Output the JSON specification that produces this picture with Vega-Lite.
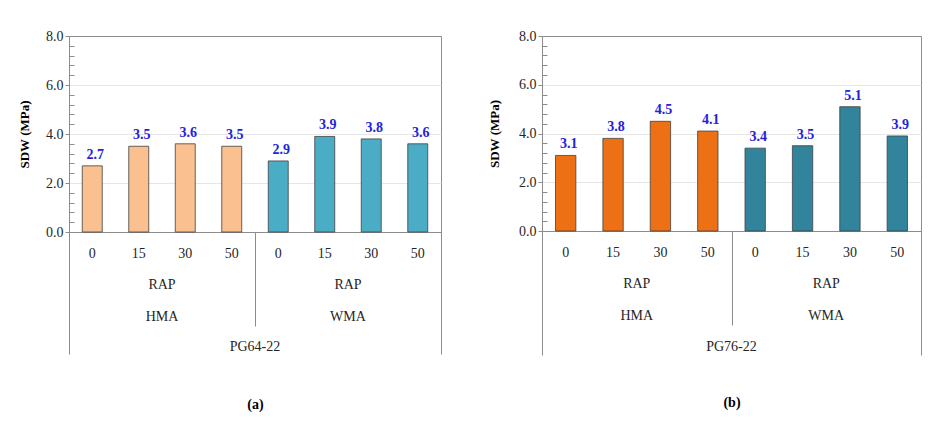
{
  "$schema": "https://vega.github.io/schema/vega-lite/v6.json",
  "padding": {"left": 18, "top": 28, "right": 5, "bottom": 0},
  "spacing": 46,
  "resolve": {"scale": {"color": "independent"}},
  "config": {
    "view": {"stroke": "#8c8c8c"},
    "font": "'Liberation Serif', 'Times New Roman', serif",
    "text": {"font": "'Liberation Serif', 'Times New Roman', serif"},
    "axis": {"labelFont": "'Liberation Serif', 'Times New Roman', serif", "titleFont": "'Liberation Serif', 'Times New Roman', serif", "domainColor": "#8c8c8c", "tickColor": "#8c8c8c", "labelColor": "#262626", "titleColor": "#000000"}
  },
  "datasets": {
    "sdw": [
      {"panel": "a", "binder": "PG64-22", "mix": "HMA", "bar": "HMA-0", "value": 2.7},
      {"panel": "a", "binder": "PG64-22", "mix": "HMA", "bar": "HMA-15", "value": 3.5},
      {"panel": "a", "binder": "PG64-22", "mix": "HMA", "bar": "HMA-30", "value": 3.6},
      {"panel": "a", "binder": "PG64-22", "mix": "HMA", "bar": "HMA-50", "value": 3.5},
      {"panel": "a", "binder": "PG64-22", "mix": "WMA", "bar": "WMA-0", "value": 2.9},
      {"panel": "a", "binder": "PG64-22", "mix": "WMA", "bar": "WMA-15", "value": 3.9},
      {"panel": "a", "binder": "PG64-22", "mix": "WMA", "bar": "WMA-30", "value": 3.8},
      {"panel": "a", "binder": "PG64-22", "mix": "WMA", "bar": "WMA-50", "value": 3.6},
      {"panel": "b", "binder": "PG76-22", "mix": "HMA", "bar": "HMA-0", "value": 3.1},
      {"panel": "b", "binder": "PG76-22", "mix": "HMA", "bar": "HMA-15", "value": 3.8},
      {"panel": "b", "binder": "PG76-22", "mix": "HMA", "bar": "HMA-30", "value": 4.5},
      {"panel": "b", "binder": "PG76-22", "mix": "HMA", "bar": "HMA-50", "value": 4.1},
      {"panel": "b", "binder": "PG76-22", "mix": "WMA", "bar": "WMA-0", "value": 3.4},
      {"panel": "b", "binder": "PG76-22", "mix": "WMA", "bar": "WMA-15", "value": 3.5},
      {"panel": "b", "binder": "PG76-22", "mix": "WMA", "bar": "WMA-30", "value": 5.1},
      {"panel": "b", "binder": "PG76-22", "mix": "WMA", "bar": "WMA-50", "value": 3.9}
    ]
  },
  "hconcat": [
    {
      "width": 372,
      "height": 196,
      "data": {"name": "sdw"},
      "transform": [{"filter": "datum.panel === 'a'"}],
      "resolve": {"scale": {"x": "independent"}, "axis": {"y": "independent"}},
      "layer": [
        {
          "mark": {"type": "bar", "stroke": "#404040", "strokeWidth": 0.8},
          "encoding": {
            "x": {"field": "bar", "type": "nominal", "sort": null, "scale": {"paddingInner": 0.57, "paddingOuter": 0.285},
              "axis": {"orient": "bottom", "title": null, "ticks": false, "labelAngle": 0, "labelPadding": 14, "labelFontSize": 14, "labelExpr": "split(datum.label, '-')[1]", "grid": false}},
            "y": {"field": "value", "type": "quantitative", "scale": {"domain": [0, 8]},
              "axis": {"orient": "left", "values": [0, 2, 4, 6, 8], "format": ".1f", "title": "SDW (MPa)", "titleFontSize": 13, "titleFontWeight": "bold", "titlePadding": 14, "labelFontSize": 14, "tickSize": 4, "grid": true,
                "gridColor": {"condition": {"test": "datum.value === 8 || datum.value === 0", "value": "#8c8c8c"}, "value": "#e6e6e6"}}},
            "color": {"field": "mix", "type": "nominal", "scale": {"domain": ["HMA", "WMA"], "range": ["#FAC090", "#4BACC6"]}, "legend": null}
          }
        },
        {
          "mark": {"type": "text", "baseline": "bottom", "dy": -4, "dx": 3, "fontWeight": "bold", "fontSize": 14, "color": "#2222DD"},
          "encoding": {
            "x": {"field": "bar", "type": "nominal", "sort": null, "scale": {"paddingInner": 0.57, "paddingOuter": 0.285}, "axis": null},
            "y": {"field": "value", "type": "quantitative", "axis": null},
            "text": {"field": "value", "type": "quantitative", "format": ".1f"}
          }
        },
        {
          "mark": {"type": "point", "opacity": 0},
          "encoding": {
            "x": {"field": "bar", "type": "nominal", "axis": null},
            "y": {"field": "value", "type": "quantitative",
              "axis": {"orient": "left", "values": [0.4, 0.8, 1.2, 1.6, 2.4, 2.8, 3.2, 3.6, 4.4, 4.8, 5.2, 5.6, 6.4, 6.8, 7.2, 7.6], "labels": false, "domain": false, "grid": false, "tickSize": -5, "title": null}}
          }
        },
        {
          "mark": {"type": "point", "opacity": 0},
          "encoding": {
            "x": {"field": "mix", "type": "nominal", "scale": {"type": "band", "paddingInner": 0, "paddingOuter": 0},
              "axis": {"orient": "bottom", "title": null, "ticks": false, "domain": false, "labelAngle": 0, "labelPadding": 45, "labelFontSize": 14, "labelLineHeight": 32, "labelExpr": "['RAP', datum.label]"}},
            "y": {"field": "value", "type": "quantitative", "axis": null}
          }
        },
        {
          "mark": {"type": "point", "opacity": 0},
          "encoding": {
            "x": {"field": "mix", "type": "nominal", "scale": {"type": "band", "paddingInner": 0, "paddingOuter": 0},
              "axis": {"orient": "bottom", "title": null, "labels": false, "domain": false, "ticks": true, "tickBand": "extent", "tickSize": 94, "grid": false}},
            "y": {"field": "value", "type": "quantitative", "axis": null}
          }
        },
        {
          "mark": {"type": "point", "opacity": 0},
          "encoding": {
            "x": {"field": "binder", "type": "nominal", "scale": {"type": "band", "paddingInner": 0, "paddingOuter": 0},
              "axis": {"orient": "bottom", "title": null, "labels": false, "domain": false, "ticks": true, "tickBand": "extent", "tickSize": 122, "grid": false}},
            "y": {"field": "value", "type": "quantitative", "axis": null}
          }
        },
        {
          "mark": {"type": "point", "opacity": 0},
          "encoding": {
            "x": {"field": "binder", "type": "nominal", "scale": {"type": "band", "paddingInner": 0, "paddingOuter": 0},
              "axis": {"orient": "bottom", "title": "(a)", "titleFontSize": 14, "titleFontWeight": "bold", "titlePadding": 44, "ticks": false, "domain": false, "labelAngle": 0, "labelPadding": 107, "labelFontSize": 14}},
            "y": {"field": "value", "type": "quantitative", "axis": null}
          }
        }
      ]
    },
    {
      "width": 379,
      "height": 195,
      "data": {"name": "sdw"},
      "transform": [{"filter": "datum.panel === 'b'"}],
      "resolve": {"scale": {"x": "independent"}, "axis": {"y": "independent"}},
      "layer": [
        {
          "mark": {"type": "bar", "stroke": "#404040", "strokeWidth": 0.8},
          "encoding": {
            "x": {"field": "bar", "type": "nominal", "sort": null, "scale": {"paddingInner": 0.57, "paddingOuter": 0.285},
              "axis": {"orient": "bottom", "title": null, "ticks": false, "labelAngle": 0, "labelPadding": 14, "labelFontSize": 14, "labelExpr": "split(datum.label, '-')[1]", "grid": false}},
            "y": {"field": "value", "type": "quantitative", "scale": {"domain": [0, 8]},
              "axis": {"orient": "left", "values": [0, 2, 4, 6, 8], "format": ".1f", "title": "SDW (MPa)", "titleFontSize": 13, "titleFontWeight": "bold", "titlePadding": 17, "labelFontSize": 14, "tickSize": 4, "grid": true,
                "gridColor": {"condition": {"test": "datum.value === 8 || datum.value === 0", "value": "#8c8c8c"}, "value": "#e6e6e6"}}},
            "color": {"field": "mix", "type": "nominal", "scale": {"domain": ["HMA", "WMA"], "range": ["#EE7014", "#31849B"]}, "legend": null}
          }
        },
        {
          "mark": {"type": "text", "baseline": "bottom", "dy": -4, "dx": 3, "fontWeight": "bold", "fontSize": 14, "color": "#2222DD"},
          "encoding": {
            "x": {"field": "bar", "type": "nominal", "sort": null, "scale": {"paddingInner": 0.57, "paddingOuter": 0.285}, "axis": null},
            "y": {"field": "value", "type": "quantitative", "axis": null},
            "text": {"field": "value", "type": "quantitative", "format": ".1f"}
          }
        },
        {
          "mark": {"type": "point", "opacity": 0},
          "encoding": {
            "x": {"field": "bar", "type": "nominal", "axis": null},
            "y": {"field": "value", "type": "quantitative",
              "axis": {"orient": "left", "values": [0.4, 0.8, 1.2, 1.6, 2.4, 2.8, 3.2, 3.6, 4.4, 4.8, 5.2, 5.6, 6.4, 6.8, 7.2, 7.6], "labels": false, "domain": false, "grid": false, "tickSize": -5, "title": null}}
          }
        },
        {
          "mark": {"type": "point", "opacity": 0},
          "encoding": {
            "x": {"field": "mix", "type": "nominal", "scale": {"type": "band", "paddingInner": 0, "paddingOuter": 0},
              "axis": {"orient": "bottom", "title": null, "ticks": false, "domain": false, "labelAngle": 0, "labelPadding": 45, "labelFontSize": 14, "labelLineHeight": 32, "labelExpr": "['RAP', datum.label]"}},
            "y": {"field": "value", "type": "quantitative", "axis": null}
          }
        },
        {
          "mark": {"type": "point", "opacity": 0},
          "encoding": {
            "x": {"field": "mix", "type": "nominal", "scale": {"type": "band", "paddingInner": 0, "paddingOuter": 0},
              "axis": {"orient": "bottom", "title": null, "labels": false, "domain": false, "ticks": true, "tickBand": "extent", "tickSize": 94, "grid": false}},
            "y": {"field": "value", "type": "quantitative", "axis": null}
          }
        },
        {
          "mark": {"type": "point", "opacity": 0},
          "encoding": {
            "x": {"field": "binder", "type": "nominal", "scale": {"type": "band", "paddingInner": 0, "paddingOuter": 0},
              "axis": {"orient": "bottom", "title": null, "labels": false, "domain": false, "ticks": true, "tickBand": "extent", "tickSize": 124, "grid": false}},
            "y": {"field": "value", "type": "quantitative", "axis": null}
          }
        },
        {
          "mark": {"type": "point", "opacity": 0},
          "encoding": {
            "x": {"field": "binder", "type": "nominal", "scale": {"type": "band", "paddingInner": 0, "paddingOuter": 0},
              "axis": {"orient": "bottom", "title": "(b)", "titleFontSize": 14, "titleFontWeight": "bold", "titlePadding": 42, "ticks": false, "domain": false, "labelAngle": 0, "labelPadding": 108, "labelFontSize": 14}},
            "y": {"field": "value", "type": "quantitative", "axis": null}
          }
        }
      ]
    }
  ]
}
